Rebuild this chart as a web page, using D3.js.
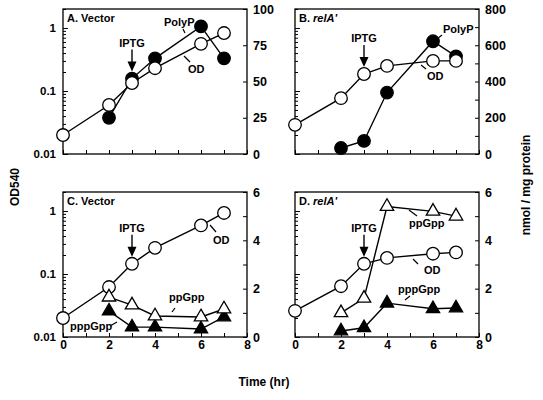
<!DOCTYPE html>
<html><head><meta charset="utf-8">
<script src="https://cdn.jsdelivr.net/npm/d3@7"></script>
<style>body{margin:0;background:#fff} svg{display:block} text{font-family:"Liberation Sans",Arial,Helvetica,sans-serif;font-weight:bold;fill:#000}</style>
</head><body><svg id="c" width="543" height="400"></svg>
<script>
// ---- data ----
const timeOD = [0, 2, 3, 4, 6, 7];
const timeNuc = [2, 3, 4, 6, 7];
const odA = [0.020, 0.060, 0.134, 0.23, 0.56, 0.83];
const polyPA = [25, 52, 66, 88, 66];
const odB = [0.029, 0.077, 0.186, 0.25, 0.30, 0.30];
const polyPB = [33, 72, 339, 622, 539];
const odC = [0.020, 0.062, 0.145, 0.26, 0.59, 0.93];
const ppGppC = [1.65, 1.32, 0.87, 0.83, 1.16];
const pppGppC = [1.07, 0.41, 0.41, 0.33, 0.83];
const odD = [0.026, 0.064, 0.145, 0.18, 0.21, 0.22];
const ppGppD = [1.0, 1.6, 5.4, 5.2, 5.0];
const pppGppD = [0.25, 0.38, 1.4, 1.17, 1.2];
const xTickLabels = [0, 2, 4, 6, 8];
const odTickLabels = [0.01, 0.1, 1];
const rightTicksA = [0, 25, 50, 75, 100];
const rightTicksB = [0, 200, 400, 600, 800];
const rightTicksCD = [0, 2, 4, 6];

const svg = d3.select("#c");
const W = 184, H = 145;
const xs = d3.scaleLinear().domain([0, 8]).range([0, W]);
const yLog = d3.scaleLog().domain([0.01, 2]).range([H, 0]);

const panels = [
  {left: 63, top: 9, letter: "A.", name: "Vector", italic: false, rMax: 100, rTicks: rightTicksA, rMinor: 25,
   leftLabels: true, xLabels: false, od: odA, filledCirc: polyPA,
   notes: [
     {t: "PolyP", x: 101, y: 17, l: [120, 20, 122, 24]},
     {t: "OD", x: 125, y: 64, l: [121, 47, 127, 53]}
   ]},
  {left: 295, top: 9, letter: "B.", name: "relA'", italic: true, rMax: 800, rTicks: rightTicksB, rMinor: 100,
   leftLabels: false, xLabels: false, od: odB, filledCirc: polyPB,
   notes: [
     {t: "PolyP", x: 148, y: 24, l: [147, 26, 142, 30]},
     {t: "OD", x: 132, y: 71, l: [126, 56, 131, 60]}
   ]},
  {left: 63, top: 192, letter: "C.", name: "Vector", italic: false, rMax: 6, rTicks: rightTicksCD, rMinor: 1,
   leftLabels: true, xLabels: true, od: odC, openTri: ppGppC, filledTri: pppGppC,
   notes: [
     {t: "OD", x: 150, y: 52, l: [147, 33, 153, 40]},
     {t: "ppGpp", x: 106, y: 109, l: [109, 120, 112, 116]},
     {t: "pppGpp", x: 7, y: 138, l: [47, 134, 54, 130]}
   ]},
  {left: 295, top: 192, letter: "D.", name: "relA'", italic: true, rMax: 6, rTicks: rightTicksCD, rMinor: 1,
   leftLabels: false, xLabels: true, od: odD, openTri: ppGppD, filledTri: pppGppD,
   notes: [
     {t: "ppGpp", x: 114, y: 35, l: [114, 18, 122, 24]},
     {t: "OD", x: 129, y: 82, l: [118, 67, 123, 72]},
     {t: "pppGpp", x: 103, y: 101, l: [110, 108, 115, 104]}
   ]}
];

const triSym = d3.symbol().type(d3.symbolTriangle).size(78);

panels.forEach(p => {
  const g = svg.append("g").attr("transform", `translate(${p.left},${p.top})`);
  const yR = d3.scaleLinear().domain([0, p.rMax]).range([H, 0]);

  // left log axis: major + minor ticks, inward
  const minor = [];
  [0.01, 0.1, 1].forEach(d => { for (let k = 2; k <= 9; k++) if (d * k <= 2.0001) minor.push(d * k); });
  const la = g.append("g").call(d3.axisLeft(yLog).tickValues(odTickLabels).tickSize(-5).tickPadding(7)
      .tickFormat(p.leftLabels ? (d => d >= 1 ? "1" : d3.format("")(d)) : () => ""));
  la.select(".domain").remove();
  la.selectAll("text").style("font-size", "11.5px");
  const lm = g.append("g").call(d3.axisLeft(yLog).tickValues(minor).tickSize(-3).tickFormat(() => ""));
  lm.select(".domain").remove();

  // right linear axis
  const ra = g.append("g").attr("transform", `translate(${W},0)`)
    .call(d3.axisRight(yR).tickValues(d3.range(0, p.rMax + 0.001, p.rMinor)).tickSize(-4).tickPadding(6)
      .tickFormat(d => p.rTicks.includes(d) ? d : ""));
  ra.select(".domain").remove();
  ra.selectAll("text").style("font-size", "12.5px");

  // bottom axis
  const ba = g.append("g").attr("transform", `translate(0,${H})`)
    .call(d3.axisBottom(xs).tickValues(d3.range(0, 9)).tickSize(-4).tickPadding(3)
      .tickFormat(d => (p.xLabels && xTickLabels.includes(d)) ? d : ""));
  ba.select(".domain").remove();
  ba.selectAll("text").style("font-size", "12px");

  g.selectAll(".tick line").attr("stroke", "#000").attr("stroke-width", 1);

  // box
  g.append("rect").attr("width", W).attr("height", H).attr("fill", "none").attr("stroke", "#000").attr("stroke-width", 1.3);

  // title
  const tt = g.append("text").attr("x", 4).attr("y", 13).style("font-size", "11px");
  tt.append("tspan").text(p.letter + " ");
  tt.append("tspan").text(p.name).style("font-style", p.italic ? "italic" : "normal");

  // lines
  const lineOD = d3.line().x((d, i) => xs(timeOD[i])).y(d => yLog(d));
  const lineR = d3.line().x((d, i) => xs(timeNuc[i])).y(d => yR(d));
  const ls = {fill: "none", stroke: "#000", "stroke-width": 1.4};
  const addPath = (data, gen) => { const pth = g.append("path").datum(data).attr("d", gen); Object.entries(ls).forEach(([k, v]) => pth.attr(k, v)); };
  addPath(p.od, lineOD);
  if (p.filledCirc) addPath(p.filledCirc, lineR);
  if (p.openTri) addPath(p.openTri, lineR);
  if (p.filledTri) addPath(p.filledTri, lineR);

  // markers
  if (p.filledCirc) g.selectAll(null).data(p.filledCirc).enter().append("circle")
      .attr("cx", (d, i) => xs(timeNuc[i])).attr("cy", d => yR(d)).attr("r", 6.3)
      .attr("fill", "#000").attr("stroke", "#000").attr("stroke-width", 1.2);
  g.selectAll(null).data(p.od).enter().append("circle")
      .attr("cx", (d, i) => xs(timeOD[i])).attr("cy", d => yLog(d)).attr("r", 6.3)
      .attr("fill", "#fff").attr("stroke", "#000").attr("stroke-width", 1.3);
  if (p.filledTri) g.selectAll(null).data(p.filledTri).enter().append("path")
      .attr("d", triSym).attr("transform", (d, i) => `translate(${xs(timeNuc[i])},${yR(d)})`)
      .attr("fill", "#000").attr("stroke", "#000").attr("stroke-width", 1.2);
  if (p.openTri) g.selectAll(null).data(p.openTri).enter().append("path")
      .attr("d", triSym).attr("transform", (d, i) => `translate(${xs(timeNuc[i])},${yR(d)})`)
      .attr("fill", "#fff").attr("stroke", "#000").attr("stroke-width", 1.3);

  // IPTG arrow at t = 3
  const i3 = timeOD.indexOf(3), j3 = timeNuc.indexOf(3);
  let yTop = yLog(p.od[i3]);
  if (p.filledCirc) yTop = Math.min(yTop, yR(p.filledCirc[j3]));
  const ax = xs(3), tip = yTop - 7, start = tip - 22;
  g.append("line").attr("x1", ax).attr("x2", ax).attr("y1", start).attr("y2", tip - 6)
    .attr("stroke", "#000").attr("stroke-width", 1.4);
  g.append("path").attr("d", `M${ax - 4.5},${tip - 10}L${ax + 4.5},${tip - 10}L${ax},${tip}Z`).attr("fill", "#000");
  g.append("text").attr("x", ax).attr("y", start - 3).attr("text-anchor", "middle").style("font-size", "11px").text("IPTG");

  // other notes
  p.notes.forEach(n => {
    g.append("text").attr("x", n.x).attr("y", n.y).style("font-size", "11px").text(n.t);
    g.append("line").attr("x1", n.l[0]).attr("y1", n.l[1]).attr("x2", n.l[2]).attr("y2", n.l[3])
      .attr("stroke", "#000").attr("stroke-width", 1.2);
  });
});

// axis titles
svg.append("text").attr("transform", "translate(19,187) rotate(-90)").attr("text-anchor", "middle")
  .style("font-size", "12px").text("OD540");
svg.append("text").attr("transform", "translate(530,185) rotate(-90)").attr("text-anchor", "middle")
  .style("font-size", "12px").text("nmol / mg protein");
svg.append("text").attr("x", 264).attr("y", 386).attr("text-anchor", "middle")
  .style("font-size", "12px").text("Time (hr)");
</script></body></html>
